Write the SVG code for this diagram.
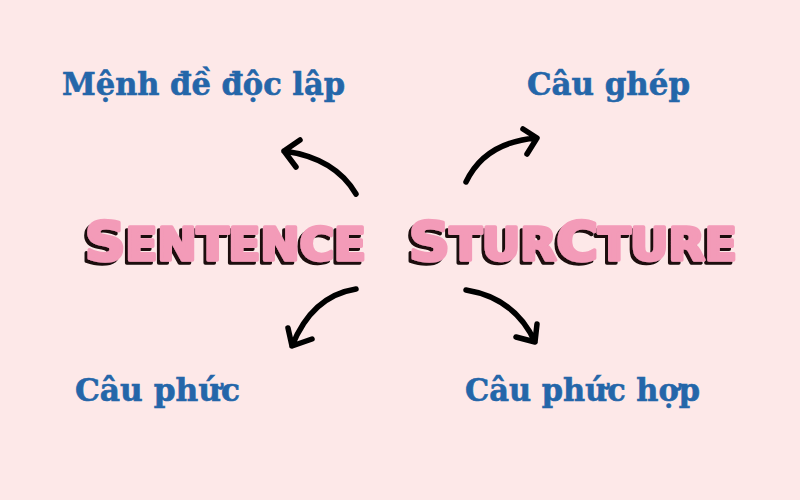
<svg xmlns="http://www.w3.org/2000/svg" width="800" height="500" viewBox="0 0 800 500">
<style>
.lbl{font-family:"DejaVu Serif","Liberation Serif",serif;font-weight:bold;font-size:31px;fill:#2466a9;stroke:#2466a9;stroke-width:0.6}
.title{font-family:"DejaVu Sans","Liberation Sans",sans-serif;font-weight:bold;fill:#f39bb8;stroke:#f39bb8;stroke-width:3.5;stroke-linejoin:round;filter:url(#shadow)}
.big{font-size:53px}
.sm{font-size:44px}
.arr{fill:none;stroke:#000;stroke-width:5.5;stroke-linecap:round;stroke-linejoin:round}
</style>
<defs>
  <filter id="shadow" x="-5%" y="-20%" width="110%" height="150%">
    <feOffset in="SourceAlpha" dx="-3" dy="3" result="o"/>
    <feFlood flood-color="#1a1010"/>
    <feComposite in2="o" operator="in" result="s"/>
    <feMerge><feMergeNode in="s"/><feMergeNode in="SourceGraphic"/></feMerge>
  </filter>
</defs>
<rect width="800" height="500" fill="#fde8e8"/>
<g id="title">
  <text class="title" x="85" y="260" textLength="281" lengthAdjust="spacingAndGlyphs"><tspan class="big">S</tspan><tspan class="sm">ENTENCE</tspan></text>
  <text class="title" x="409" y="260" textLength="328" lengthAdjust="spacingAndGlyphs"><tspan class="big">S</tspan><tspan class="sm">TUR</tspan><tspan class="big">C</tspan><tspan class="sm">TURE</tspan></text>
</g>
<g id="menh-de-doc-lap"><text class="lbl" x="62" y="95" textLength="283" lengthAdjust="spacingAndGlyphs">Mệnh đề độc lập</text></g>
<g id="cau-ghep"><text class="lbl" x="527" y="95" textLength="163" lengthAdjust="spacingAndGlyphs">Câu ghép</text></g>
<g id="cau-phuc"><text class="lbl" x="75" y="401" textLength="165" lengthAdjust="spacingAndGlyphs">Câu phức</text></g>
<g id="cau-phuc-hop"><text class="lbl" x="465" y="401" textLength="235" lengthAdjust="spacingAndGlyphs">Câu phức hợp</text></g>
<g id="connectors">
  <path class="arr" d="M356,194 Q335,158 284,151 M300,140 L284,151 L296,167"/>
  <path class="arr" d="M466,182 Q485,142 537,138 M523,129 L537,138 L527,154"/>
  <path class="arr" d="M356,289 Q312,296 292,346 M288,328 L292,346 L312,339"/>
  <path class="arr" d="M466,290 Q515,298 535,342 M537,324 L535,342 L516,337"/>
</g>
</svg>
